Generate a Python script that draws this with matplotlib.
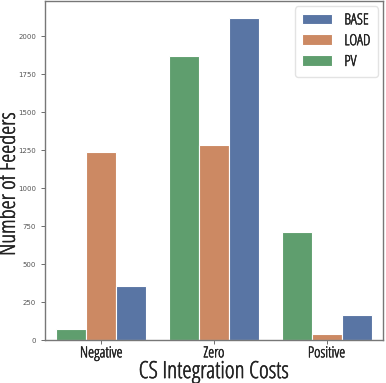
import matplotlib
matplotlib.use("Agg")
import matplotlib.pyplot as plt
import matplotlib.patheffects as pe
import numpy as np
import colorsys
from matplotlib import font_manager
from matplotlib.font_manager import FontProperties

categories = ["Negative", "Zero", "Positive"]
hue_order = ["PV", "LOAD", "BASE"]
pv = [70, 1869, 708]
load = [1239, 1283, 40]
base = [358, 2120, 163]
base_colors = {"BASE": "#4C72B0", "LOAD": "#DD8452", "PV": "#55A868"}


def desat(hexcol, prop=0.75):
    # same idea as seaborn's default bar saturation
    r, g, b = matplotlib.colors.to_rgb(hexcol)
    h, l, s = colorsys.rgb_to_hls(r, g, b)
    return colorsys.hls_to_rgb(h, l, s * prop)


colors = {k: desat(v) for k, v in base_colors.items()}


def wnum(wt):
    if isinstance(wt, (int, float)):
        return wt
    return {"light": 300, "normal": 400, "regular": 400, "book": 400}.get(str(wt), 400)


# pick a light condensed face close to the reference
def find_font():
    fonts = font_manager.fontManager.ttflist
    wishes = [
        (lambda f: f.name.startswith("Open Sans Condensed") and wnum(f.weight) == 300),
        (lambda f: f.name == "Open Sans" and "condensed" in str(f.stretch) and wnum(f.weight) <= 400),
        (lambda f: f.name == "Roboto Condensed" and wnum(f.weight) == 300),
        (lambda f: f.name == "Fira Sans Condensed" and wnum(f.weight) == 300),
        (lambda f: f.name == "Roboto Condensed" and wnum(f.weight) == 400),
        (lambda f: f.name == "PT Sans Narrow" and wnum(f.weight) == 400),
    ]
    for wish in wishes:
        for f in fonts:
            if f.style == "normal" and wish(f):
                return f.fname
    return None


fpath = find_font()


def fp(size):
    if fpath:
        return FontProperties(fname=fpath, size=size)
    return FontProperties(family="DejaVu Sans", size=size)


# light face is a touch thinner than the reference, thicken a bit
thick = [pe.withStroke(linewidth=0.35, foreground="#222222")]

fig = plt.figure(figsize=(3.86, 3.83), dpi=100)
ax = fig.add_axes([0.117, 0.112, 0.875, 0.885])

values = {"PV": pv, "LOAD": load, "BASE": base}
w = 0.8 / 3
x = np.arange(len(categories))
handles = {}
for i, h in enumerate(hue_order):
    bars = ax.bar(x - 0.4 + w * (i + 0.5), values[h], width=w, color=colors[h],
                  edgecolor="white", linewidth=0.8, label=h)
    handles[h] = bars

ax.set_xlim(-0.5, 2.5)
ax.set_ylim(0, 2230)
ax.set_yticks([0, 250, 500, 750, 1000, 1250, 1500, 1750, 2000])
ax.set_xticks(x)
ax.set_xticklabels(categories, fontproperties=fp(11))
ax.tick_params(axis="y", labelsize=5, colors="#555555", length=3, width=0.6)
ax.tick_params(axis="x", length=3, width=0.6, colors="#555555", pad=1.5)
for lab in ax.get_xticklabels():
    lab.set_color("#222222")
    lab.set_path_effects(thick)
for s in ax.spines.values():
    s.set_color("#777777")
    s.set_linewidth(1.0)

ax.set_ylabel("Number of Feeders", fontproperties=fp(16.5), color="#222222",
              path_effects=thick)
ax.yaxis.set_label_coords(-0.072, 0.46)
ax.set_xlabel("CS Integration Costs", fontproperties=fp(17), color="#222222",
              path_effects=thick)
ax.xaxis.set_label_coords(0.5, -0.112)
ax.xaxis.label.set_va("baseline")

leg = ax.legend([handles["BASE"], handles["LOAD"], handles["PV"]], ["BASE", "LOAD", "PV"],
                loc="upper right", prop=fp(11),
                handlelength=2.0, handleheight=0.7, borderpad=0.45, labelspacing=0.38,
                handletextpad=0.8, borderaxespad=0.35, frameon=True)
leg.get_frame().set_edgecolor("#dddddd")
for t in leg.get_texts():
    t.set_color("#222222")
    t.set_path_effects(thick)

fig.savefig("out.png", dpi=100)
